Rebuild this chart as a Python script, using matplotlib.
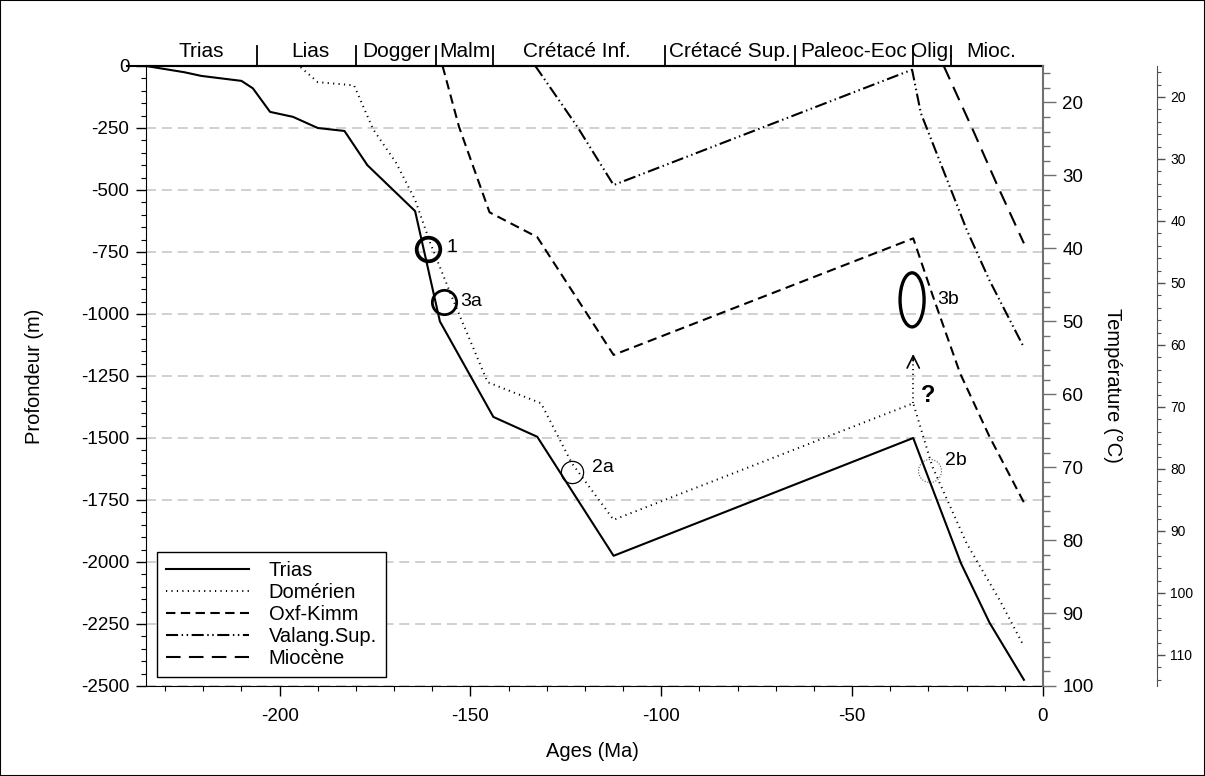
import numpy as np
import matplotlib.pyplot as plt
import matplotlib.transforms as mtransforms
from matplotlib.patches import Ellipse, Rectangle

plt.rcParams['font.family'] = ['Liberation Sans', 'DejaVu Sans']
plt.rcParams['axes.unicode_minus'] = False

# burial curves (age Ma, depth m)
trias_age = [-235, -225, -220.5, -210, -207, -202.5, -196.5, -190, -183, -177, -164.5, -158, -144, -132.5, -112.5, -34, -21.5, -14, -5]
trias_depth = [0, -25, -40, -60, -90, -185, -205, -250, -262, -400, -585, -1030, -1415, -1495, -1975, -1500, -2005, -2245, -2475]

dom_age = [-194.5, -190, -180.5, -175.5, -169.5, -164.5, -160.5, -154.5, -145.5, -131.5, -123.5, -112.5, -34, -29, -20, -11.3, -5]
dom_depth = [-5, -65, -78, -255, -390, -540, -715, -945, -1275, -1360, -1600, -1830, -1360, -1615, -1925, -2155, -2340]

oxf_age = [-157.3, -153, -145, -132.5, -112.5, -34, -28.8, -21.7, -14, -5]
oxf_depth = [0, -245, -590, -690, -1165, -695, -930, -1240, -1495, -1760]

val_age = [-133, -122, -112.5, -34.3, -32, -20, -14, -5]
val_depth = [0, -245, -480, -15, -190, -660, -865, -1135]

mio_age = [-26, -22.3, -18.3, -12, -5]
mio_depth = [0, -125, -260, -480, -715]

# stratigraphic band
strat_names = ['Trias', 'Lias', 'Dogger', 'Malm', 'Crétacé Inf.', 'Crétacé Sup.', 'Paleoc-Eoc', 'Olig.', 'Mioc.']
strat_centers = [-220.5, -192, -169.5, -151.5, -122, -82, -49.5, -29, -13.5]
strat_bounds = [-206, -180, -159, -144, -99, -65, -34, -24]

# sample markers
samp_labels = ['1', '3a', '2a', '3b', '2b']
samp_age = [-161.0, -156.8, -123.4, -34.3, -29.6]
samp_depth = [-738, -951, -1636, -943, -1633]

fig = plt.figure(figsize=(12.05, 7.76), dpi=100)
ax = fig.add_axes([146/1205, 90/776, 897/1205, 620/776])

lw = 1.5
ax.plot(trias_age, trias_depth, color='black', lw=lw, label='Trias')
ax.plot(dom_age, dom_depth, color='black', lw=1.4, dashes=(0.6, 2.2), label='Domérien')
ax.plot(oxf_age, oxf_depth, color='black', lw=lw, dashes=(4.5, 2.6), label='Oxf-Kimm')
ax.plot(val_age, val_depth, color='black', lw=lw, dashes=(5.8, 1.7, 0.7, 1.7, 0.7, 1.7), label='Valang.Sup.')
ax.plot(mio_age, mio_depth, color='black', lw=lw, dashes=(7, 4), label='Miocène')

ax.set_xlim(-235, 0)
ax.set_ylim(-2500, 0)
ax.set_xticks([-200, -150, -100, -50, 0])
ax.set_xticks(np.arange(-230, 0, 10), minor=True)
ax.set_yticks(np.arange(-2500, 1, 250))
ax.set_yticks(np.arange(-2500, 1, 50), minor=True)
ax.grid(axis='y', which='major', color='#c8c8c8', lw=1.2, linestyle=(0, (6, 3.5)))
ax.set_axisbelow(True)
ax.tick_params(which='major', direction='out', length=7, width=1, labelsize=13.5)
ax.tick_params(which='minor', direction='out', length=3.5, width=0.8)
ax.tick_params(axis='x', pad=9)
ax.tick_params(axis='y', pad=5)
ax.spines['right'].set_visible(False)
ax.spines['top'].set_linewidth(1.5)

ax.set_xlabel('Ages (Ma)', fontsize=14.5, va='center')
ax.xaxis.set_label_coords(0.498, -0.106)
ax.set_ylabel('Profondeur (m)', fontsize=14.5, va='center')
ax.yaxis.set_label_coords(-0.124, 0.5)

# samples
ax.plot(samp_age[0], samp_depth[0], 'o', ms=17, mfc='none', mec='black', mew=2.7)
ax.plot(samp_age[1], samp_depth[1], 'o', ms=17.5, mfc='none', mec='black', mew=2.0)
ax.plot(samp_age[2], samp_depth[2], 'o', ms=16, mfc='none', mec='black', mew=0.9)
ax.add_patch(Ellipse((samp_age[3], samp_depth[3]), 6.3, 218, fill=False, ec='black', lw=2.4))
ax.add_patch(Ellipse((samp_age[4], samp_depth[4]), 6.0, 93, fill=False, ec='#555555', lw=0.8, ls=(0, (1, 1.5))))
offs = [4.8, 4.2, 5.3, 6.6, 3.9]
dys = [8, 0, 16, 0, 44]
for lab, a, d, o, dy in zip(samp_labels, samp_age, samp_depth, offs, dys):
    ax.text(a + o, d + dy, lab, fontsize=14, ha='left', va='center')

# question arrow
ax.plot([-34, -34], [-1359, -1175], color='black', lw=1.3, dashes=(0.6, 2.0))
ax.annotate('', xy=(-34, -1150), xytext=(-34, -1200),
            arrowprops=dict(arrowstyle='->', color='black', lw=1.2, mutation_scale=22))
ax.text(-30.1, -1327, '?', fontsize=17, fontweight='bold', ha='center', va='center')

# legend
handles, labels = ax.get_legend_handles_labels()
leg = ax.legend(handles, labels, loc='lower left', bbox_to_anchor=(11/897, 9/620),
                borderaxespad=0, fancybox=False, edgecolor='black', framealpha=1,
                fontsize=14.5, handlelength=4.1, handletextpad=1.0, labelspacing=0.15,
                borderpad=0.45)
leg.get_frame().set_linewidth(1.0)

# stratigraphic band on top
trans = mtransforms.blended_transform_factory(ax.transData, ax.transAxes)
ax.plot([-240, 0], [1, 1], transform=trans, color='black', lw=1.5, clip_on=False)
for b in strat_bounds:
    ax.plot([b, b], [1, 1 + 20/620], transform=trans, color='black', lw=1.3, clip_on=False)
for name, c in zip(strat_names, strat_centers):
    ax.text(c, 1.024, name, transform=trans, ha='center', va='center', fontsize=15)

# temperature axes
ax2 = ax.twinx()
ax2.set_ylim(100, 15)
ax2.set_yticks(np.arange(20, 101, 10))
ax2.set_yticks(np.arange(16, 101, 2), minor=True)
for s in ['left', 'top', 'bottom']:
    ax2.spines[s].set_visible(False)
ax2.spines['right'].set_color('#707070')
ax2.spines['right'].set_linewidth(1.5)
ax2.tick_params(axis='y', which='major', length=9, width=1, color='#707070', labelsize=13.5, pad=5)
ax2.tick_params(axis='y', which='minor', length=5, width=1, color='#707070')
ax2.set_ylabel('Température (°C)', fontsize=14.5, rotation=270, va='center', ha='center')
ax2.yaxis.set_label_coords(1.077, 0.485)

ax3 = ax.twinx()
ax3.spines['right'].set_position(('axes', 1 + 114/897))
ax3.set_ylim(115, 15)
ax3.set_yticks(np.arange(20, 111, 10))
ax3.set_yticks(np.arange(16, 115, 2), minor=True)
for s in ['left', 'top', 'bottom']:
    ax3.spines[s].set_visible(False)
ax3.spines['right'].set_color('#505050')
ax3.tick_params(axis='y', which='major', length=5.5, width=1, color='#505050', labelsize=10, pad=4)
ax3.tick_params(axis='y', which='minor', length=3, width=0.8, color='#505050')

fig.add_artist(Rectangle((0, 0), 1, 1, transform=fig.transFigure, fill=False, ec='black', lw=1.5))

fig.savefig('out.png', dpi=100)
